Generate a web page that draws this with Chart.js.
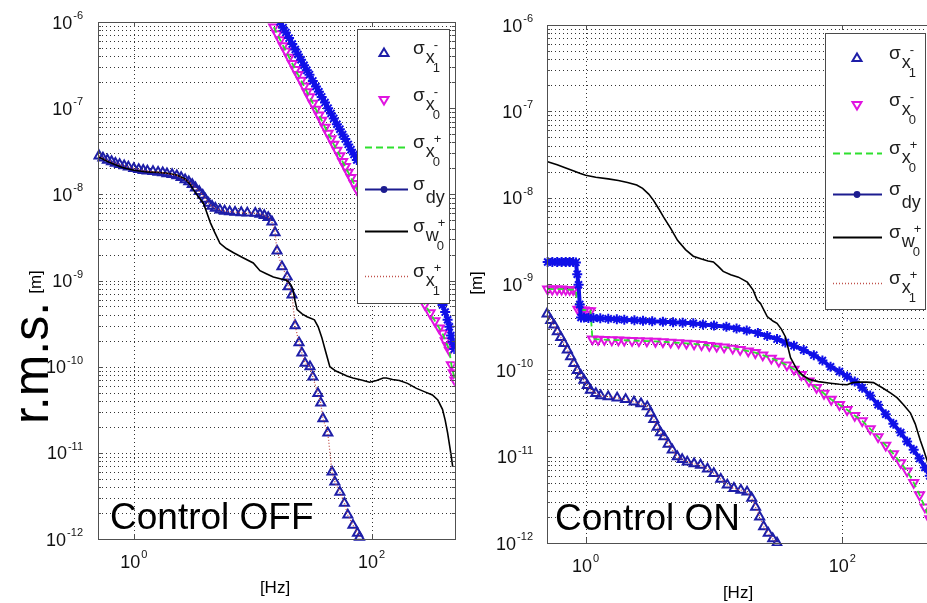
<!DOCTYPE html>
<html>
<head>
<meta charset="utf-8">
<script src="https://cdn.jsdelivr.net/npm/chart.js@4.4.1/dist/chart.umd.min.js"></script>
<style>
  html, body { margin: 0; padding: 0; background: #fff; overflow: hidden; }
  #wrap { position: relative; width: 927px; height: 603px; overflow: hidden; background: #fff; }
  canvas { position: absolute; top: 0; }
  #off { left: 0; width: 462px; height: 603px; }
  #on { left: 462px; width: 480px; height: 603px; }
</style>
</head>
<body>
<div id="wrap">
  <canvas id="off" width="462" height="603"></canvas>
  <canvas id="on" width="480" height="603"></canvas>
</div>
<script>
// ---- Control OFF ----
const offX1Hz = [0.51, 0.55, 0.6, 0.65, 0.7, 0.76, 0.83, 0.9, 1.0, 1.1, 1.2, 1.3, 1.45, 1.6, 1.75, 1.9, 2.1, 2.3, 2.5, 2.7,
  2.9, 3.1, 3.3, 3.55, 3.8, 4.0, 4.25, 4.55, 4.85, 5.3, 5.8, 6.4, 7.1, 8.0, 9.0, 10.5, 11.5, 12.5, 13.5, 14.5,
  15.4, 16, 17.6, 19.5, 19.9, 21.4, 22.7, 24.5, 25.9, 27.5, 30.3, 32, 35.3, 37.3, 38.9, 42.8, 46.4, 49, 54, 59,
  63, 69.6, 76, 79];
const offX1 = [2.8e-8, 2.65e-8, 2.5e-8, 2.4e-8, 2.3e-8, 2.22e-8, 2.15e-8, 2.08e-8, 2.0e-8, 1.95e-8, 1.9e-8, 1.87e-8, 1.84e-8, 1.81e-8, 1.78e-8, 1.74e-8, 1.7e-8, 1.65e-8, 1.57e-8, 1.48e-8,
  1.4e-8, 1.3e-8, 1.19e-8, 1.08e-8, 9.8e-9, 8.8e-9, 7.9e-9, 7.3e-9, 6.9e-9, 6.6e-9, 6.4e-9, 6.3e-9, 6.2e-9, 6.15e-9, 6.1e-9, 6.05e-9, 5.9e-9, 5.7e-9, 5.4e-9, 4.8e-9,
  3.6e-9, 2.2e-9, 1.45e-9, 1.1e-9, 8.5e-10, 6.8e-10, 3.0e-10, 1.9e-10, 1.44e-10, 1.1e-10, 1.0e-10, 7.6e-11, 4.9e-11, 3.8e-11, 2.5e-11, 1.7e-11, 6.0e-12, 4.6e-12, 3.5e-12, 2.6e-12,
  1.9e-12, 1.45e-12, 1.17e-12, 1.05e-12];

const offX0Hz = [15, 16, 17, 18, 19, 20.2, 21.5, 22.8, 24, 25.5, 27, 28.5, 30, 32, 34, 36, 38, 40.5, 43, 45.5,
  48, 51, 54, 57, 60, 63.5, 67, 71, 75, 82, 90, 100, 115, 130, 150, 170, 195, 220, 250, 280,
  310, 340, 370, 394, 415, 435, 450, 468, 485, 500];
const offX0 = [8.7e-7, 7.3e-7, 6.2e-7, 5.3e-7, 4.6e-7, 3.9e-7, 3.3e-7, 2.8e-7, 2.45e-7, 2.1e-7, 1.8e-7, 1.55e-7, 1.35e-7, 1.14e-7, 9.7e-8, 8.3e-8, 7.2e-8, 6.0e-8, 5.1e-8, 4.4e-8,
  3.8e-8, 3.25e-8, 2.8e-8, 2.4e-8, 2.1e-8, 1.8e-8, 1.56e-8, 1.33e-8, 1.15e-8, 9.3e-9, 7.5e-9, 5.9e-9, 4.2e-9, 3.2e-9, 2.3e-9, 1.7e-9, 1.24e-9, 9.4e-10, 6.9e-10, 5.3e-10,
  4.2e-10, 3.4e-10, 2.8e-10, 2.45e-10, 2.0e-10, 1.75e-10, 1.55e-10, 1.05e-10, 8.5e-11, 7e-11];

const offDyHz = [15, 16, 17, 18, 19, 20.2, 21.5, 22.8, 24, 25.5, 27, 28.5, 30, 32, 34, 36, 38, 40.5, 43, 45.5,
  48, 51, 54, 57, 60, 63.5, 67, 71, 75, 100, 130, 170, 220, 280, 320, 360, 394, 415, 435, 450,
  465, 480, 495];
const offDy = [1.36e-6, 1.16e-6, 1.0e-6, 8.6e-7, 7.55e-7, 6.5e-7, 5.55e-7, 4.8e-7, 4.2e-7, 3.65e-7, 3.15e-7, 2.75e-7, 2.45e-7, 2.07e-7, 1.78e-7, 1.55e-7, 1.35e-7, 1.16e-7, 1.0e-7, 8.7e-8,
  7.6e-8, 6.5e-8, 5.7e-8, 4.95e-8, 4.4e-8, 3.8e-8, 3.3e-8, 2.9e-8, 2.5e-8, 1.3e-8, 7.0e-9, 3.8e-9, 2.05e-9, 1.17e-9, 8.6e-10, 6.4e-10, 5.2e-10, 4.3e-10, 3.5e-10, 2.9e-10,
  2.3e-10, 1.95e-10, 1.6e-10];

const offW0Hz = [0.51, 0.6, 0.7, 0.8, 1.0, 1.3, 1.6, 1.92, 2.3, 2.72, 3.0, 3.19, 3.5, 3.85, 4.1, 4.4, 4.8, 5.3, 6.0, 6.9,
  8.2, 10.1, 11.5, 13, 14.9, 17, 19.5, 21, 21.8, 22.7, 23.6, 26, 28.6, 33, 35.5, 38, 41, 44.5, 50, 54,
  62, 69.6, 82, 96, 110, 125, 133, 150, 171, 200, 238, 280, 324, 360, 394, 415, 435, 455, 468, 480];
const offW0 = [2.7e-8, 2.4e-8, 2.2e-8, 2.05e-8, 1.9e-8, 1.82e-8, 1.8e-8, 1.76e-8, 1.68e-8, 1.5e-8, 1.28e-8, 1.12e-8, 9.3e-9, 7.9e-9, 6.2e-9, 4.7e-9, 3.6e-9, 2.7e-9, 2.35e-9, 2.1e-9,
  1.85e-9, 1.6e-9, 1.3e-9, 1.2e-9, 1.1e-9, 1.05e-9, 1.0e-9, 8.8e-10, 7.8e-10, 5.8e-10, 4.6e-10, 4.1e-10, 3.8e-10, 3.5e-10, 2.9e-10, 2.2e-10, 1.5e-10, 1.0e-10, 8.9e-11, 8.5e-11,
  7.8e-11, 7.4e-11, 7.0e-11, 6.6e-11, 6.9e-11, 7.4e-11, 7.4e-11, 7.1e-11, 6.9e-11, 6.4e-11, 5.6e-11, 5.1e-11, 4.7e-11, 4.1e-11, 3.2e-11, 2.4e-11, 1.7e-11, 1.15e-11, 8.9e-12, 6.9e-12];

// ---- Control ON ----
const onX1Hz = [0.5, 0.534, 0.566, 0.602, 0.64, 0.678, 0.72, 0.764, 0.81, 0.862, 0.915, 0.97, 1.03, 1.09, 1.2, 1.31, 1.5, 1.76, 2.05, 2.38,
  2.7, 3.02, 3.2, 3.4, 3.61, 3.83, 4.07, 4.4, 4.73, 5.18, 5.65, 6.19, 7.0, 7.86, 8.9, 9.97, 11.3, 12.7, 14.3, 16.2,
  18.1, 19.7, 21.1, 22.7, 24.4, 26.5, 28.7, 31.0];
const onX1 = [4.5e-10, 3.8e-10, 3.35e-10, 2.8e-10, 2.4e-10, 2.05e-10, 1.72e-10, 1.44e-10, 1.2e-10, 1.0e-10, 8.8e-11, 7.7e-11, 6.7e-11, 5.9e-11, 5.4e-11, 5.1e-11, 4.95e-11, 4.8e-11, 4.6e-11, 4.3e-11,
  4.1e-11, 3.8e-11, 3.2e-11, 2.7e-11, 2.2e-11, 1.9e-11, 1.7e-11, 1.4e-11, 1.2e-11, 1.0e-11, 9.3e-12, 8.7e-12, 8.3e-12, 8.0e-12, 7.2e-12, 6.4e-12, 5.5e-12, 4.7e-12, 4.3e-12, 4.1e-12,
  3.9e-12, 3.3e-12, 2.6e-12, 2.0e-12, 1.55e-12, 1.3e-12, 1.12e-12, 1.0e-12];

const onX0Hz = [0.506, 0.55, 0.6, 0.65, 0.7, 0.75, 0.8, 0.84, 0.87, 0.92, 0.97, 1.03, 1.09, 1.13, 1.25, 1.4, 1.6, 1.8, 2.0, 2.3,
  2.6, 3.0, 3.5, 4.0, 4.6, 5.3, 6.1, 7.0, 8.0, 9.2, 10.5, 12, 14, 16, 18.5, 21, 24, 28, 32, 37,
  42, 48, 55, 63, 72, 82, 95, 109, 125, 143, 165, 190, 218, 250, 285, 320, 360, 400, 440, 480];
const onX0 = [8.7e-10, 8.7e-10, 8.7e-10, 8.7e-10, 8.6e-10, 8.6e-10, 8.6e-10, 8.5e-10, 5.1e-10, 5.0e-10, 5.0e-10, 4.9e-10, 4.9e-10, 2.3e-10, 2.28e-10, 2.27e-10, 2.25e-10, 2.24e-10, 2.23e-10, 2.21e-10,
  2.2e-10, 2.18e-10, 2.16e-10, 2.14e-10, 2.11e-10, 2.08e-10, 2.05e-10, 2.02e-10, 1.98e-10, 1.94e-10, 1.9e-10, 1.86e-10, 1.8e-10, 1.74e-10, 1.67e-10, 1.6e-10, 1.5e-10, 1.38e-10, 1.27e-10, 1.15e-10,
  1.03e-10, 8.9e-11, 7.5e-11, 6.3e-11, 5.4e-11, 4.6e-11, 4.0e-11, 3.5e-11, 3.0e-11, 2.6e-11, 2.1e-11, 1.7e-11, 1.35e-11, 1.08e-11, 8.5e-12, 6.8e-12, 5.0e-12, 3.6e-12, 2.6e-12, 1.9e-12];

const onDyHz = [0.506, 0.55, 0.6, 0.65, 0.7, 0.75, 0.8, 0.84, 0.86, 0.88, 0.9, 0.92, 0.97, 1.05, 1.15, 1.3, 1.5, 1.75, 2.0, 2.4,
  2.8, 3.3, 4.0, 4.8, 5.7, 6.9, 8.2, 10, 12.5, 15, 18, 22, 26, 31, 36, 42, 50, 60, 70, 81,
  95, 109, 125, 143, 165, 190, 218, 250, 285, 320, 360, 400, 440, 480];
const onDy = [1.8e-9, 1.8e-9, 1.8e-9, 1.8e-9, 1.8e-9, 1.8e-9, 1.8e-9, 1.78e-9, 1.3e-9, 9.8e-10, 5.8e-10, 4.1e-10, 4.1e-10, 4.05e-10, 4.05e-10, 4.0e-10, 3.95e-10, 3.9e-10, 3.85e-10, 3.8e-10,
  3.75e-10, 3.7e-10, 3.65e-10, 3.6e-10, 3.55e-10, 3.5e-10, 3.4e-10, 3.3e-10, 3.2e-10, 3.05e-10, 2.9e-10, 2.7e-10, 2.5e-10, 2.3e-10, 2.1e-10, 1.93e-10, 1.72e-10, 1.5e-10, 1.3e-10, 1.1e-10,
  9.7e-11, 8.5e-11, 7.4e-11, 6.3e-11, 5.1e-11, 4.0e-11, 3.1e-11, 2.4e-11, 1.9e-11, 1.5e-11, 1.2e-11, 9.5e-12, 7.5e-12, 6.0e-12];

const onW0Hz = [0.506, 0.6, 0.7, 0.8, 0.9, 1.0, 1.2, 1.5, 1.8, 2.12, 2.5, 2.78, 3.1, 3.38, 3.7, 4.04, 4.6, 5.2, 6.0, 6.9,
  8.0, 9.0, 9.9, 10.8, 11.8, 13.5, 15.5, 18.2, 20.2, 21.7, 23, 26, 29, 31, 33.5, 36, 39.5, 44.7, 50, 56,
  65, 81, 95, 109, 120, 135, 155, 175, 208, 240, 268, 300, 340, 370, 405, 430, 458, 480];
const onW0 = [2.6e-8, 2.4e-8, 2.2e-8, 2.05e-8, 1.92e-8, 1.82e-8, 1.72e-8, 1.65e-8, 1.58e-8, 1.5e-8, 1.4e-8, 1.28e-8, 1.1e-8, 9.3e-9, 7.5e-9, 6.0e-9, 4.4e-9, 3.2e-9, 2.5e-9, 2.1e-9,
  1.95e-9, 1.85e-9, 1.8e-9, 1.6e-9, 1.4e-9, 1.28e-9, 1.2e-9, 1.05e-9, 8.5e-10, 6.5e-10, 6.0e-10, 4.2e-10, 3.7e-10, 3.5e-10, 3.0e-10, 2.45e-10, 1.4e-10, 1.0e-10, 8.6e-11, 7.8e-11,
  7.4e-11, 7.1e-11, 6.9e-11, 6.8e-11, 7.2e-11, 7.3e-11, 7.3e-11, 7.2e-11, 6.2e-11, 5.4e-11, 4.8e-11, 4.0e-11, 3.2e-11, 2.4e-11, 1.55e-11, 1.2e-11, 9e-12, 6.5e-12];

// axis ticks
const yTickExps = [-12, -11, -10, -9, -8, -7, -6];
const xTickExps = [0, 2];
const legendLabels = [
  { sub: 'x', sup: '-', sub2: '1', mark: 'up' },
  { sub: 'x', sup: '-', sub2: '0', mark: 'down' },
  { sub: 'x', sup: '+', sub2: '0', mark: 'dash' },
  { sub: 'dy', mark: 'star' },
  { sub: 'w', sup: '+', sub2: '0', mark: 'solid' },
  { sub: 'x', sup: '+', sub2: '1', mark: 'dot' }
];

const FONT = '"Liberation Sans", Arial, Helvetica, sans-serif';
const NAVY = '#1e1ea8';
const MAGENTA = '#e014e0';
const GREEN = '#2ee02e';
const BLUE = '#1010e8';
const RED = '#c0504a';

const pts = (hz, v) => hz.slice(0, v.length).map((f, i) => ({ x: f, y: v[i] }));

function seriesFor(x1Hz, x1, x0Hz, x0, dyHz, dy, w0Hz, w0) {
  return [
    { data: pts(x1Hz, x1), showLine: false, pointStyle: 'triangle', pointRadius: 5.2, pointBorderWidth: 2,
      pointBorderColor: NAVY, pointBackgroundColor: 'rgba(0,0,0,0)', order: 6 },
    { data: pts(x0Hz, x0), showLine: false, pointStyle: 'triangle', pointRotation: 180, pointRadius: 5.2, pointBorderWidth: 2,
      pointBorderColor: MAGENTA, pointBackgroundColor: 'rgba(0,0,0,0)', order: 5 },
    { data: pts(x0Hz, x0), borderColor: GREEN, borderWidth: 1.8, borderDash: [6, 4], pointRadius: 0, order: 4 },
    { data: pts(dyHz, dy), borderColor: BLUE, borderWidth: 4, pointStyle: 'star', pointRadius: 5, pointBorderWidth: 2,
      pointBorderColor: BLUE, order: 3 },
    { data: pts(w0Hz, w0), borderColor: '#000', borderWidth: 1.6, pointRadius: 0, order: 2 },
    { data: pts(x1Hz, x1), borderColor: RED, borderWidth: 1.3, borderDash: [1, 2], pointRadius: 0, order: 1 }
  ];
}

function drawPow(ctx, x, y, exp, align) {
  ctx.font = '18px ' + FONT;
  const w1 = ctx.measureText('10').width;
  ctx.font = '11px ' + FONT;
  const w2 = ctx.measureText(exp).width;
  const left = align === 'right' ? x - w1 - w2 - 1 : x - (w1 + w2 + 1) / 2;
  ctx.textAlign = 'left';
  ctx.textBaseline = 'alphabetic';
  ctx.font = '18px ' + FONT;
  ctx.fillText('10', left, y + 6.5);
  ctx.font = '11px ' + FONT;
  ctx.fillText(exp, left + w1 + 1, y - 3);
}

function drawSigma(ctx, x, y, it) {
  ctx.fillStyle = '#1e1e1e';
  ctx.textAlign = 'left';
  ctx.textBaseline = 'alphabetic';
  ctx.font = '19px ' + FONT;
  ctx.fillText('σ', x, y + 1);
  const sw = ctx.measureText('σ').width;
  if (!it.sup) {
    ctx.font = '18px ' + FONT;
    ctx.fillText(it.sub, x + sw + 1, y + 14);
    return;
  }
  ctx.font = '18px ' + FONT;
  ctx.fillText(it.sub, x + sw + 1, y + 10);
  const xw = ctx.measureText(it.sub).width;
  ctx.font = '13px ' + FONT;
  ctx.fillText(it.sup, x + sw + xw, y - 4);
  ctx.fillText(it.sub2, x + sw + xw - 1, y + 19);
}

function drawMarker(ctx, kind, x, y) {
  ctx.save();
  ctx.lineWidth = 2;
  const s = kind === 'up' ? 1 : -1;
  ctx.strokeStyle = kind === 'up' ? NAVY : MAGENTA;
  ctx.beginPath();
  ctx.moveTo(x, y - 4.5 * s);
  ctx.lineTo(x + 4.5, y + 3 * s);
  ctx.lineTo(x - 4.5, y + 3 * s);
  ctx.closePath();
  ctx.stroke();
  ctx.restore();
}

function drawLegend(ctx, L) {
  ctx.save();
  ctx.fillStyle = '#fff';
  ctx.fillRect(L.x0, L.y0, L.x1 - L.x0, L.y1 - L.y0);
  ctx.strokeStyle = '#4a4a4a';
  ctx.lineWidth = 1;
  ctx.strokeRect(L.x0 + 0.5, L.y0 + 0.5, L.x1 - L.x0, L.y1 - L.y0);
  legendLabels.forEach((it, i) => {
    const ry = L.rows[i];
    ctx.setLineDash([]);
    if (it.mark === 'up' || it.mark === 'down') {
      drawMarker(ctx, it.mark, L.mx, ry);
    } else {
      ctx.beginPath();
      ctx.lineWidth = 1.8;
      if (it.mark === 'dash') { ctx.strokeStyle = GREEN; ctx.setLineDash([7, 4]); }
      if (it.mark === 'star') { ctx.strokeStyle = '#1c1c90'; ctx.lineWidth = 2; }
      if (it.mark === 'solid') { ctx.strokeStyle = '#000'; }
      if (it.mark === 'dot') { ctx.strokeStyle = RED; ctx.setLineDash([1, 2]); ctx.lineWidth = 1.4; }
      ctx.moveTo(L.lx0, ry + 0.5);
      ctx.lineTo(L.lx1, ry + 0.5);
      ctx.stroke();
      ctx.setLineDash([]);
      if (it.mark === 'star') {
        ctx.fillStyle = '#1c1c90';
        ctx.beginPath();
        ctx.arc(L.mx, ry + 0.5, 3.4, 0, Math.PI * 2);
        ctx.fill();
      }
    }
    drawSigma(ctx, L.tx, ry, it);
  });
  ctx.restore();
}

const framePlugin = {
  id: 'frame',
  beforeDatasetsDraw(chart, args, o) {
    const { ctx, chartArea: a, scales: { x, y } } = chart;
    ctx.save();
    ctx.strokeStyle = '#333';
    ctx.lineWidth = 1;
    ctx.setLineDash([1, 3]);
    ctx.beginPath();
    yTickExps.forEach(e => {
      for (let k = 1; k <= 9; k++) {
        if (e === -6 && k > 1) break;
        const py = Math.round(y.getPixelForValue(k * Math.pow(10, e))) + 0.5;
        ctx.moveTo(a.left, py);
        ctx.lineTo(a.right, py);
      }
    });
    xTickExps.forEach(e => {
      const px = Math.round(x.getPixelForValue(Math.pow(10, e))) + 0.5;
      ctx.moveTo(px, a.top);
      ctx.lineTo(px, a.bottom);
    });
    ctx.stroke();
    ctx.restore();
  },
  afterDatasetsDraw(chart, args, o) {
    const { ctx, chartArea: a, scales: { x, y } } = chart;
    ctx.save();
    ctx.strokeStyle = '#505050';
    ctx.lineWidth = 1;
    ctx.setLineDash([]);
    ctx.strokeRect(Math.round(a.left) + 0.5, Math.round(a.top) + 0.5, Math.round(a.width), Math.round(a.height));
    ctx.beginPath();
    yTickExps.forEach(e => {
      for (let k = 1; k <= 9; k++) {
        if (e === -6 && k > 1) break;
        const py = Math.round(y.getPixelForValue(k * Math.pow(10, e))) + 0.5;
        const len = k === 1 ? 5 : 3;
        ctx.moveTo(a.left, py); ctx.lineTo(a.left + len, py);
        ctx.moveTo(a.right, py); ctx.lineTo(a.right - len, py);
      }
    });
    xTickExps.forEach(e => {
      const px = Math.round(x.getPixelForValue(Math.pow(10, e))) + 0.5;
      ctx.moveTo(px, a.bottom); ctx.lineTo(px, a.bottom - 5);
      ctx.moveTo(px, a.top); ctx.lineTo(px, a.top + 5);
    });
    ctx.stroke();
    ctx.restore();
    drawLegend(ctx, o.legend);
  },
  afterDraw(chart, args, o) {
    const { ctx, scales: { x, y } } = chart;
    ctx.save();
    ctx.fillStyle = '#111';
    yTickExps.forEach(e => drawPow(ctx, o.yLabelRight, y.getPixelForValue(Math.pow(10, e)), String(e), 'right'));
    xTickExps.forEach(e => drawPow(ctx, x.getPixelForValue(Math.pow(10, e)), o.xLabelY, String(e), 'center'));
    ctx.fillStyle = '#000';
    ctx.textAlign = 'center';
    ctx.textBaseline = 'alphabetic';
    ctx.font = '17px ' + FONT;
    ctx.fillText('[Hz]', o.hz.x, o.hz.y);
    ctx.save();
    ctx.translate(o.m.x, o.m.y);
    ctx.rotate(-Math.PI / 2);
    ctx.fillText('[m]', 0, 0);
    ctx.restore();
    if (o.rms) {
      ctx.save();
      ctx.translate(o.rms.x, o.rms.y);
      ctx.rotate(-Math.PI / 2);
      ctx.font = '50px ' + FONT;
      ctx.fillText('r.m.s.', 0, 0);
      ctx.restore();
    }
    ctx.textAlign = 'left';
    ctx.font = '37px ' + FONT;
    ctx.fillText(o.note.text, o.note.x, o.note.y);
    ctx.restore();
  }
};

function makeChart(id, datasets, pad, frame) {
  return new Chart(document.getElementById(id), {
    type: 'line',
    data: { datasets },
    options: {
      responsive: false,
      animation: false,
      devicePixelRatio: 1,
      layout: { padding: pad },
      clip: { left: 6, top: 0, right: 0, bottom: 3 },
      elements: { line: { tension: 0 } },
      plugins: { legend: { display: false }, tooltip: { enabled: false }, frame },
      scales: {
        x: { type: 'logarithmic', min: 0.5, max: 500, display: false },
        y: { type: 'logarithmic', min: 1e-12, max: 1e-6, display: false }
      }
    },
    plugins: [framePlugin]
  });
}

makeChart('off',
  seriesFor(offX1Hz, offX1, offX0Hz, offX0, offDyHz, offDy, offW0Hz, offW0),
  { left: 98, top: 22, right: 6, bottom: 64 },
  {
    legend: { x0: 357, y0: 29, x1: 449, y1: 303, rows: [53, 100, 147, 189, 231, 276], lx0: 365, lx1: 408, mx: 384, tx: 413 },
    yLabelRight: 83, xLabelY: 561,
    hz: { x: 275, y: 593 }, m: { x: 41, y: 282 }, rms: { x: 48, y: 363 },
    note: { text: 'Control OFF', x: 110, y: 529 }
  });

makeChart('on',
  seriesFor(onX1Hz, onX1, onX0Hz, onX0, onDyHz, onDy, onW0Hz, onW0),
  { left: 85, top: 25, right: 10, bottom: 60 },
  {
    legend: { x0: 363, y0: 33, x1: 463, y1: 309, rows: [58, 105, 153, 194, 237, 283], lx0: 371, lx1: 420, mx: 395, tx: 427 },
    yLabelRight: 71, xLabelY: 565,
    hz: { x: 276, y: 598 }, m: { x: 20, y: 283 }, rms: null,
    note: { text: 'Control ON', x: 93, y: 530 }
  });
</script>
</body>
</html>
